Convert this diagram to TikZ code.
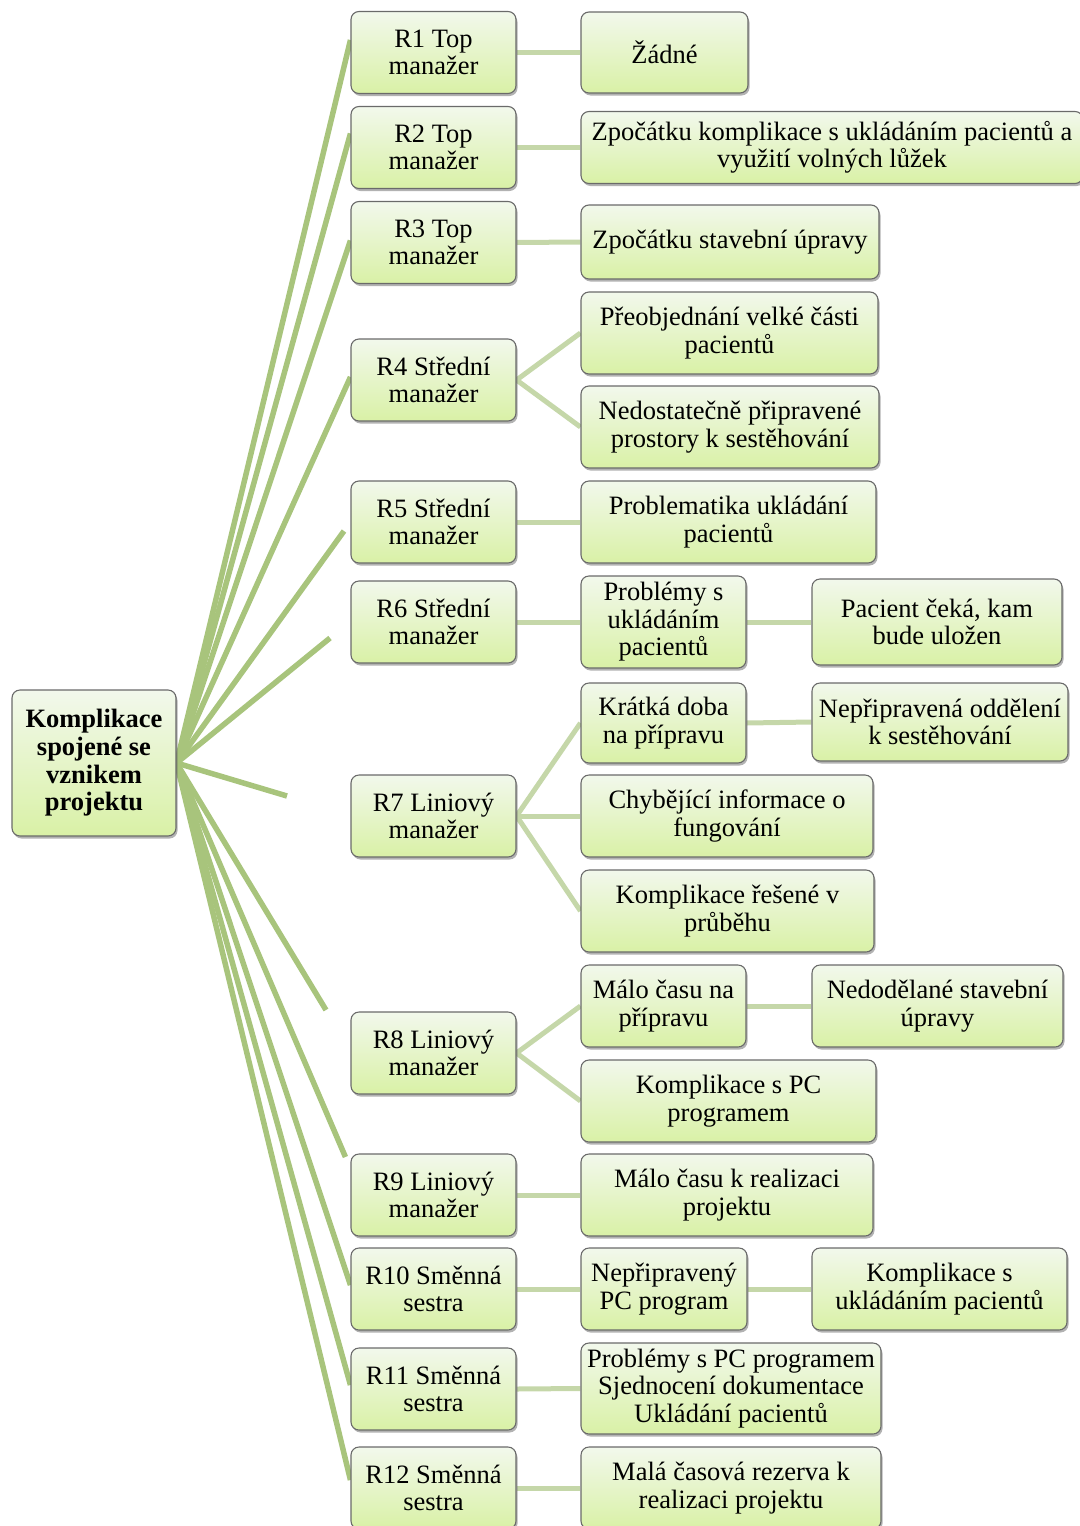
\documentclass[tikz,border=0pt]{standalone}
\usepackage{fontspec}
\setmainfont{Liberation Serif}
\usetikzlibrary{shadows,calc,backgrounds}

\definecolor{boxtop}{HTML}{F2F8EC}
\definecolor{boxbot}{HTML}{D9F1A6}
\definecolor{boxline}{HTML}{6A6A6A}
\definecolor{trunkgreen}{HTML}{A8C47C}
\definecolor{twiggreen}{HTML}{C5D7A9}

\tikzset{
  box/.style={rectangle, rounded corners=8pt, draw=boxline, line width=1.1pt,
    top color=boxtop, bottom color=boxbot,
    drop shadow={shadow xshift=1.5pt, shadow yshift=-2.5pt, opacity=0.5, fill=black!60},
    align=center, inner sep=2pt, text=black,
    font=\fontsize{26.5}{27.5}\selectfont},
  rbox/.style={box, minimum width=165pt, minimum height=82pt},
  trunk/.style={draw=trunkgreen, line width=5.5pt},
  twig/.style={draw=twiggreen, line width=5pt},
}

\begin{document}
\begin{tikzpicture}[x=1pt, y=-1pt]
\useasboundingbox (0,0) rectangle (1079,1526);

% root
\node[box, minimum width=164pt, minimum height=146pt,
      font=\fontsize{26.5}{27.7}\selectfont\bfseries] (root) at (94,763)
  {Komplikace\\spojené se\\vznikem\\projektu};

% respondents
\node[rbox] (r1)  at (433.5,52.5)  {R1 Top\\manažer};
\node[rbox] (r2)  at (433.5,147.5) {R2 Top\\manažer};
\node[rbox] (r3)  at (433.5,242.5) {R3 Top\\manažer};
\node[rbox] (r4)  at (433.5,380)   {R4 Střední\\manažer};
\node[rbox] (r5)  at (433.5,522)   {R5 Střední\\manažer};
\node[rbox] (r6)  at (433.5,622)   {R6 Střední\\manažer};
\node[rbox] (r7)  at (433.5,816)   {R7 Liniový\\manažer};
\node[rbox] (r8)  at (433.5,1053)  {R8 Liniový\\manažer};
\node[rbox] (r9)  at (433.5,1195)  {R9 Liniový\\manažer};
\node[rbox] (r10) at (433.5,1289)  {R10 Směnná\\sestra};
\node[rbox] (r11) at (433.5,1389)  {R11 Směnná\\sestra};
\node[rbox] (r12) at (433.5,1488)  {R12 Směnná\\sestra};

% complications
\node[box, minimum width=167pt, minimum height=81pt] (c1) at (664.5,52.5) {Žádné};
\node[box, minimum width=502pt, minimum height=72pt] (c2) at (832,147.5)
  {Zpočátku komplikace s ukládáním pacientů a\\využití volných lůžek};
\node[box, minimum width=298pt, minimum height=74pt] (c3) at (730,242) {Zpočátku stavební úpravy};
\node[box, minimum width=297pt, minimum height=82pt] (c4) at (729.5,333) {Přeobjednání velké části\\pacientů};
\node[box, minimum width=298pt, minimum height=82pt] (c5) at (730,427) {Nedostatečně připravené\\prostory k sestěhování};
\node[box, minimum width=295pt, minimum height=82pt] (c6) at (728.5,522) {Problematika ukládání\\pacientů};
\node[box, minimum width=165pt, minimum height=92pt] (c7) at (663.5,622) {Problémy s\\ukládáním\\pacientů};
\node[box, minimum width=250pt, minimum height=86pt] (g7) at (937,622) {Pacient čeká, kam\\bude uložen};
\node[box, minimum width=165pt, minimum height=80pt] (c8) at (663.5,723) {Krátká doba\\na přípravu};
\node[box, minimum width=256pt, minimum height=78pt] (g8) at (940,722) {Nepřipravená oddělení\\k sestěhování};
\node[box, minimum width=292pt, minimum height=82pt] (c9) at (727,816) {Chybějící informace o\\fungování};
\node[box, minimum width=293pt, minimum height=82pt] (c10) at (727.5,911) {Komplikace řešené v\\průběhu};
\node[box, minimum width=165pt, minimum height=82pt] (c11) at (663.5,1006) {Málo času na\\přípravu};
\node[box, minimum width=251pt, minimum height=82pt] (g11) at (937.5,1006) {Nedodělané stavební\\úpravy};
\node[box, minimum width=295pt, minimum height=82pt] (c12) at (728.5,1101) {Komplikace s PC\\programem};
\node[box, minimum width=292pt, minimum height=82pt] (c13) at (727,1195) {Málo času k realizaci\\projektu};
\node[box, minimum width=166pt, minimum height=82pt] (c14) at (664,1289) {Nepřipravený\\PC program};
\node[box, minimum width=255pt, minimum height=82pt] (g14) at (939.5,1289) {Komplikace s\\ukládáním pacientů};
\node[box, minimum width=300pt, minimum height=91pt] (c15) at (731,1388.5)
  {Problémy s PC programem\\Sjednocení dokumentace\\Ukládání pacientů};
\node[box, minimum width=300pt, minimum height=82pt] (c16) at (731,1488) {Malá časová rezerva k\\realizaci projektu};

% loose ends of the shortened spokes
\coordinate (e5) at (344,531);
\coordinate (e6) at (330,638);
\coordinate (e7) at (287,796);
\coordinate (e8) at (326,1010);

\begin{scope}[on background layer]
  % spokes from the root
  \draw[trunk] (root.east) -- ([yshift=12.5pt]r1.west);
  \draw[trunk] (root.east) -- ([yshift=14pt]r2.west);
  \draw[trunk] (root.east) -- ([yshift=2pt]r3.west);
  \draw[trunk] (root.east) -- ([yshift=3pt]r4.west);
  \draw[trunk] (root.east) -- (e5);
  \draw[trunk] (root.east) -- (e6);
  \draw[trunk] (root.east) -- (e7);
  \draw[trunk] (root.east) -- (e8);
  \draw[trunk] (root.east) -- ([xshift=-5pt,yshift=38pt]r9.west);
  \draw[trunk] (root.east) -- ([yshift=4pt]r10.west);
  \draw[trunk] (root.east) -- ([yshift=4pt]r11.west);
  \draw[trunk] (root.east) -- ([yshift=8pt]r12.west);

  % branches to the complications
  \draw[twig] (r1.east) -- (c1.west);
  \draw[twig] (r2.east) -- (c2.west);
  \draw[twig] (r3.east) -- (c3.west);
  \draw[twig] (r4.east) -- (c4.west);
  \draw[twig] (r4.east) -- (c5.west);
  \draw[twig] (r5.east) -- (c6.west);
  \draw[twig] (r6.east) -- (c7.west);
  \draw[twig] (c7.east) -- (g7.west);
  \draw[twig] (r7.east) -- (c8.west);
  \draw[twig] (c8.east) -- (g8.west);
  \draw[twig] (r7.east) -- (c9.west);
  \draw[twig] (r7.east) -- (c10.west);
  \draw[twig] (r8.east) -- (c11.west);
  \draw[twig] (c11.east) -- (g11.west);
  \draw[twig] (r8.east) -- (c12.west);
  \draw[twig] (r9.east) -- (c13.west);
  \draw[twig] (r10.east) -- (c14.west);
  \draw[twig] (c14.east) -- (g14.west);
  \draw[twig] (r11.east) -- (c15.west);
  \draw[twig] (r12.east) -- (c16.west);
\end{scope}
\end{tikzpicture}
\end{document}
